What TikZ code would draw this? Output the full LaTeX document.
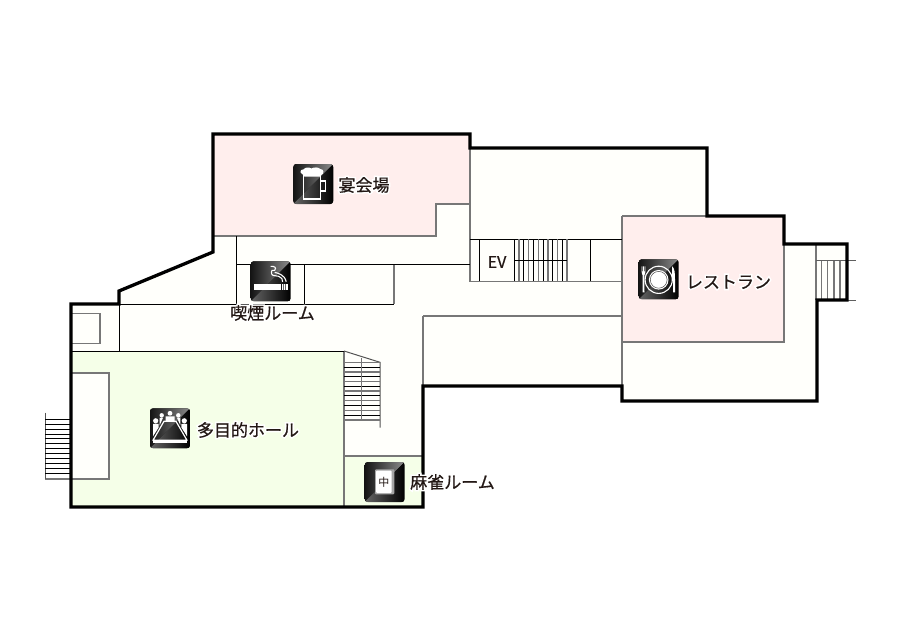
\documentclass[tikz,border=0pt]{standalone}
\usepackage{fontspec}
\newfontfamily\jp[FakeBold=0.7]{Noto Sans CJK JP}
\newfontfamily\jphalo[FakeBold=19]{Noto Sans CJK JP}
\newfontfamily\jpplain{Noto Sans CJK JP}
\definecolor{floorc}{HTML}{FFFFFB}
\definecolor{pinkc}{HTML}{FFEEED}
\definecolor{greenc}{HTML}{F5FFE8}
\definecolor{grayl}{HTML}{777777}
\definecolor{inkc}{HTML}{231815}
\tikzset{
  wall/.style={line width=3.3pt,black,line join=miter,line cap=rect},
  thin line/.style={line width=1pt,black},
  gray line/.style={line width=1.5pt,grayl},
  label text/.style={inner sep=0pt,text=inkc,font=\jp\fontsize{17}{17}\selectfont},
  halo text/.style={inner sep=0pt,text=white,font=\jphalo\fontsize{17}{17}\selectfont},
  ico/.style={white,line width=1.2pt}
}
% icon background: upper-left corner in picture units
\newcommand{\iconbg}[2]{%
  \begin{scope}
    \clip[rounded corners=3pt] (#1,#2) rectangle ++(40,40);
    \fill[black] (#1,#2) rectangle ++(40,40);
    \shade[left color=black!92,right color=black!45] (#1,#2) -- ++(40,0) -- ++(-40,40) -- cycle;
    \shade[left color=black!60,right color=black] (#1+40,#2) -- ++(0,40) -- ++(-40,0) -- cycle;
  \end{scope}}
\begin{document}
\begin{tikzpicture}[x=1pt,y=-1pt]
\useasboundingbox (0,0) rectangle (900,640);
\fill[white] (0,0) rectangle (900,640);
% floor
\fill[floorc] (213,134) -- (470,134) -- (470,148) -- (707,148) -- (707,216) -- (784,216) -- (784,244) -- (847,244) -- (847,300) -- (817,300) -- (817,401) -- (622,401) -- (622,386) -- (423,386) -- (423,507) -- (71,507) -- (71,304) -- (119,304) -- (119,291) -- (213,252) -- cycle;
% coloured rooms
\fill[pinkc] (213,134) -- (470,134) -- (470,204) -- (436,204) -- (436,236) -- (213,236) -- cycle;
\fill[pinkc] (622,216) rectangle (784,342);
\fill[greenc] (71,351) rectangle (344,507);
\fill[greenc] (344,456) rectangle (423,507);
\fill[floorc] (71,373) rectangle (109,479);
% gray walls
\draw[gray line] (470,148) -- (470,282) (470,204) -- (436,204) -- (436,236) -- (213,236);
\draw[gray line] (622,216) -- (622,401) (622,216) -- (784,216) -- (784,342) -- (622,342);
\draw[gray line,line width=1.2pt] (470,281.5) -- (622,281.5) (423,316) -- (622,316) (423,316) -- (423,386);
\draw[gray line] (71,373) -- (109,373) -- (109,479) -- (45,479);
\draw[gray line] (71,313.5) -- (100,313.5) -- (100,343.5) -- (71,343.5);
\draw[gray line,line width=1.2pt] (344,351) -- (344,507) (344,456) -- (423,456) (394,264.5) -- (394,304);
% thin lines
\draw[thin line] (236,236) -- (236,304) (236,264.5) -- (470,264.5) (304,264.5) -- (304,304) (71,304.3) -- (394,304.3);
\draw[thin line] (119.3,304) -- (119.3,351) (71,351) -- (344,351);
\draw[thin line] (470,239.3) -- (622,239.3) (479.3,239.3) -- (479.3,281.3) (590.7,239.3) -- (590.7,281.3);
% EV stairs
\foreach \i in {0,2,...,10} {\draw[thin line] ({514.3+\i*4.8},239.3) -- ({514.3+\i*4.8},281.3);}
\foreach \i in {1,3,...,11} {\draw[gray line] ({514.3+\i*4.8},239.3) -- ({514.3+\i*4.8},281.3);}
\draw[thin line] (514.3,260.3) -- (567,260.3);
% right stairs
\draw[gray line] (816,244) -- (816,300);
\foreach \x in {821.7,827.7,834,840} {\draw[gray line,line width=1.1pt] (\x,260.5) -- (\x,300);}
\draw[line width=.8pt,grayl!80!black] (816,260.5) -- (856,260.5) (816,300.5) -- (856,300.5);
% hall stairs
\draw[line width=1pt,grayl!70!black] (344,351) -- (380,362.3) -- (380,427.5);
\foreach \i in {0,2,...,12} {\draw[gray line] (344,{362.3+\i*4.8}) -- (380,{362.3+\i*4.8});}
\foreach \i in {1,3,...,11} {\draw[thin line] (344,{362.3+\i*4.8}) -- (380,{362.3+\i*4.8});}
\draw[gray line] (361.7,358) -- (361.7,420);
% left stairs
\draw[line width=1pt,grayl!70!black] (45,412.7) -- (45,479);
\foreach \i in {0,...,11} {\draw[thin line] (45,{419.3+\i*4.9}) -- (71,{419.3+\i*4.9});}
% outer wall
\draw[wall] (213,134) -- (470,134) -- (470,148) -- (707,148) -- (707,216) -- (784,216) -- (784,244) -- (847,244) -- (847,300) -- (817,300) -- (817,401) -- (622,401) -- (622,386) -- (423,386) -- (423,507) -- (71,507) -- (71,304) -- (119,304) -- (119,291) -- (213,252) -- cycle;
% beer icon
\iconbg{293.3}{164}
\begin{scope}[shift={(293.3,164)}]
  \draw[ico] (10,11.5) rectangle (27.4,35);
  \draw[ico] (27.4,17) rectangle (32.4,27);
  \fill[white] (9,10) .. controls (6,9) and (7,5) .. (10,5.5) .. controls (12,3) and (16,3) .. (18,4.5) .. controls (21,3) and (25,3) .. (27,5) .. controls (31,5) and (31,10) .. (28,11) -- (27,12.5) -- (11,12.5) -- cycle;
\end{scope}
% restaurant icon
\iconbg{638.7}{259.3}
\begin{scope}[shift={(638.7,259.3)}]
  \draw[white,line width=1.1pt] (20,20.5) circle (13.6);
  \fill[white] (20,20.5) circle (9.8);
  \draw[black!70,line width=.5pt] (20,20.5) circle (8.4);
  \fill[white] (3,7) -- (3.7,7) -- (3.7,12) -- (4.5,12) -- (4.5,7) -- (5.1,7) -- (5.1,12) -- (5.9,12) -- (5.9,7) -- (6.6,7) -- (6.6,13) .. controls (6.6,15) and (5.6,15.5) .. (5.6,16) -- (5.8,33) -- (3.8,33) -- (4,16) .. controls (4,15.5) and (3,15) .. (3,13) -- cycle;
  \fill[white] (33.5,7) .. controls (36,9) and (36.3,14) .. (36.3,20) -- (36.3,33) -- (34.3,33) -- (34.3,22) -- (33.5,22) -- cycle;
\end{scope}
% smoking icon
\iconbg{250.7}{261.3}
\begin{scope}[shift={(250.7,261.3)}]
  \fill[white] (3.7,22.3) rectangle (30.5,28.3);
  \fill[white] (31,22.3) rectangle (37,28.3);
  \foreach \x in {32.5,34.5} {\draw[black!60,line width=.5pt] (\x,22.3) -- (\x,28.3);}
  \draw[white,line width=1.1pt] (21,13) .. controls (20,9) and (22,8) .. (24,9) .. controls (26,6) and (24,5) .. (20,5);
  \draw[white,line width=1.1pt] (21,13) .. controls (22,15) and (26,14) .. (28,15) .. controls (31,16) and (32,18) .. (32,20.5);
  \draw[white,line width=1.1pt] (24,11) .. controls (27,12) and (34,13) .. (35.5,20.5);
\end{scope}
% hall icon
\iconbg{150}{408.3}
\begin{scope}[shift={(150,408.3)}]
  \draw[white,line width=1.2pt,line join=round] (14,13) -- (26,13) -- (37,32) -- (3,32) -- cycle;
  \fill[white] (3,32) rectangle (37,35);
  \fill[white] (20,5) circle (2.4) (15.5,8) rectangle (24.5,13);
  \fill[white] (11.7,7) circle (2.2) (13,9.5) -- (9.7,9.5) -- (9.7,17) -- cycle;
  \fill[white] (28.3,7) circle (2.2) (27,9.5) -- (30.3,9.5) -- (30.3,17) -- cycle;
  \fill[white] (5.7,12.5) circle (2.6) (3,15.5) -- (8.7,15.5) -- (8.7,19) -- (3,28) -- cycle;
  \fill[white] (34.3,12.5) circle (2.6) (37,15.5) -- (31.3,15.5) -- (31.3,19) -- (37,28) -- cycle;
\end{scope}
% mahjong icon
\iconbg{364.7}{462}
\begin{scope}[shift={(364.7,462)}]
  \fill[black!35,rounded corners=1pt] (10.3,7.3) rectangle (29.7,32.3);
  \fill[white,rounded corners=1pt] (11.5,8.5) rectangle (27,31);
  \node[inner sep=0pt,text=inkc,font=\jpplain\fontsize{11}{11}\selectfont] (tile) at (19.2,20) {中};
\end{scope}
% labels
\node[halo text] (banquet halo) at (364,185) {宴会場};
\node[label text] (banquet) at (364,185) {宴会場};
\node[halo text] (restaurant halo) at (728.5,282) {レストラン};
\node[label text] (restaurant) at (728.5,282) {レストラン};
\node[halo text] (smoking halo) at (272.5,313) {喫煙ルーム};
\node[label text] (smoking) at (272.5,313) {喫煙ルーム};
\node[halo text] (hall halo) at (248,430) {多目的ホール};
\node[label text] (hall) at (248,430) {多目的ホール};
\node[halo text] (mahjong halo) at (452.5,482) {麻雀ルーム};
\node[label text] (mahjong) at (452.5,482) {麻雀ルーム};
\node[label text,font=\jp\fontsize{16}{16}\selectfont] (ev) at (497,262) {EV};
\end{tikzpicture}
\end{document}
